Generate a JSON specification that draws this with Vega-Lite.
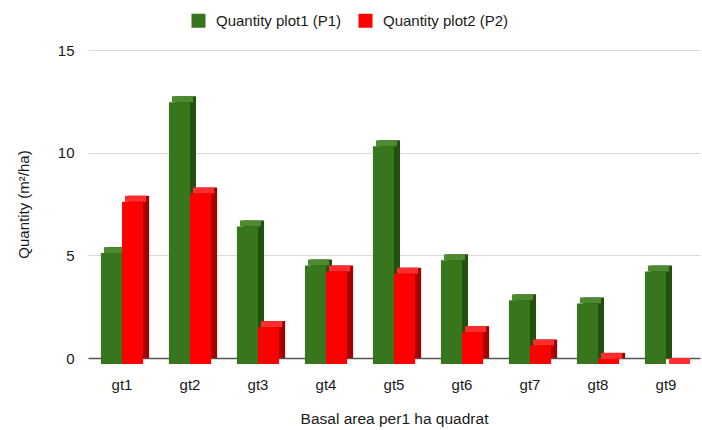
{
  "$schema": "https://vega.github.io/schema/vega-lite/v6.json",
  "width": 612,
  "height": 308,
  "autosize": {"type": "none"},
  "padding": {"left": 88, "top": 50, "right": 2, "bottom": 72},
  "background": "white",
  "config": {"font": "Liberation Sans", "view": {"stroke": null}},
  "data": {
    "values": [
      {"gt": "gt1", "series": "Quantity plot1 (P1)", "value": 5.4},
      {"gt": "gt1", "series": "Quantity plot2 (P2)", "value": 7.9},
      {"gt": "gt2", "series": "Quantity plot1 (P1)", "value": 12.75},
      {"gt": "gt2", "series": "Quantity plot2 (P2)", "value": 8.3},
      {"gt": "gt3", "series": "Quantity plot1 (P1)", "value": 6.7},
      {"gt": "gt3", "series": "Quantity plot2 (P2)", "value": 1.8},
      {"gt": "gt4", "series": "Quantity plot1 (P1)", "value": 4.8},
      {"gt": "gt4", "series": "Quantity plot2 (P2)", "value": 4.5},
      {"gt": "gt5", "series": "Quantity plot1 (P1)", "value": 10.6},
      {"gt": "gt5", "series": "Quantity plot2 (P2)", "value": 4.4},
      {"gt": "gt6", "series": "Quantity plot1 (P1)", "value": 5.05},
      {"gt": "gt6", "series": "Quantity plot2 (P2)", "value": 1.55},
      {"gt": "gt7", "series": "Quantity plot1 (P1)", "value": 3.1},
      {"gt": "gt7", "series": "Quantity plot2 (P2)", "value": 0.9},
      {"gt": "gt8", "series": "Quantity plot1 (P1)", "value": 2.95},
      {"gt": "gt8", "series": "Quantity plot2 (P2)", "value": 0.25},
      {"gt": "gt9", "series": "Quantity plot1 (P1)", "value": 4.5},
      {"gt": "gt9", "series": "Quantity plot2 (P2)", "value": 0}
    ]
  },
  "encoding": {
    "x": {
      "field": "gt", "type": "nominal", "sort": null,
      "scale": {"paddingInner": 0.38, "paddingOuter": 0.19},
      "axis": {
        "title": "Basal area per1 ha quadrat", "labelAngle": 0, "domain": false, "ticks": false,
        "labelFontSize": 15, "labelColor": "#1a1a1a", "labelPadding": 19,
        "titleFontSize": 15.5, "titleFontWeight": "normal", "titleColor": "#1a1a1a", "titlePadding": 19
      }
    },
    "y": {
      "field": "value", "type": "quantitative",
      "scale": {"domain": [0, 15], "nice": false},
      "axis": {
        "title": "Quantity (m²/ha)", "values": [0, 5, 10, 15], "domain": false, "ticks": false,
        "labelFontSize": 15, "labelColor": "#1a1a1a", "labelPadding": 14,
        "titleFontSize": 15, "titleFontWeight": "normal", "titleColor": "#1a1a1a", "titlePadding": 26,
        "gridColor": {"condition": {"test": "datum.value === 0", "value": "#555555"}, "value": "#d9d9d9"},
        "gridWidth": {"condition": {"test": "datum.value === 0", "value": 1.5}, "value": 1}
      }
    }
  },
  "layer": [
    {
      "mark": {"type": "bar"},
      "encoding": {
        "xOffset": {"field": "series", "type": "nominal", "sort": null, "scale": {"range": [6, 48.2], "paddingInner": 0, "paddingOuter": 0}},
        "color": {"field": "series", "type": "nominal",
          "scale": {"domain": ["Quantity plot1 (P1)", "Quantity plot2 (P2)"], "range": ["#24500f", "#a30000"]},
          "legend": null}
      }
    },
    {
      "mark": {"type": "bar", "y2Offset": 6},
      "encoding": {
        "xOffset": {"field": "series", "type": "nominal", "sort": null, "scale": {"range": [3, 45.2], "paddingInner": 0, "paddingOuter": 0}},
        "y2": {"field": "value"},
        "color": {"field": "series", "type": "nominal",
          "scale": {"domain": ["Quantity plot1 (P1)", "Quantity plot2 (P2)"], "range": ["#4d8a30", "#ff2d2d"]},
          "legend": null}
      }
    },
    {
      "mark": {"type": "bar", "yOffset": 6, "y2Offset": 6},
      "encoding": {
        "xOffset": {"field": "series", "type": "nominal", "sort": null, "scale": {"range": [0, 42.2], "paddingInner": 0, "paddingOuter": 0}},
        "color": {"field": "series", "type": "nominal",
          "scale": {"domain": ["Quantity plot1 (P1)", "Quantity plot2 (P2)"], "range": ["#38761d", "#ff0000"]},
          "legend": {
            "title": null, "orient": "none", "legendX": 103, "legendY": -37, "direction": "horizontal",
            "symbolType": "square", "symbolSize": 196, "symbolStrokeWidth": 0,
            "labelFontSize": 15, "labelColor": "#1a1a1a", "columnPadding": 16, "labelOffset": 10
          }
        }
      }
    }
  ],
  "resolve": {"scale": {"color": "independent", "xOffset": "independent"}}
}
